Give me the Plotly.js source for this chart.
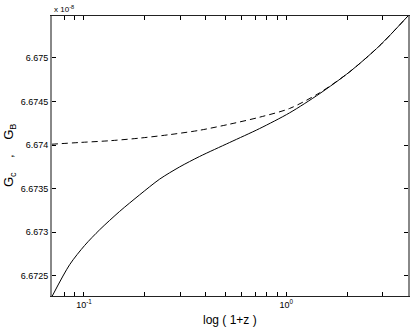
<!DOCTYPE html>
<html>
<head>
<meta charset="utf-8">
<script src="https://cdn.plot.ly/plotly-3.0.1.min.js"></script>
<style>
  body { margin: 0; background: #fff; }
  #chart { width: 412px; height: 327px; }
</style>
</head>
<body>
<div id="chart"></div>
<script>
// redshift axis, values of 1+z
var zSolid = [0.0697, 0.085, 0.1008, 0.1196, 0.1501, 0.1884, 0.2366, 0.297, 0.3729, 0.5246, 0.7381, 1.038, 1.461, 2.055, 2.891, 3.988];
// G_c (units of 1e-8)
var gSolid = [6.67227, 6.67263, 6.67285, 6.67303, 6.67324, 6.67343, 6.67361, 6.67375, 6.67387, 6.67403, 6.67419, 6.67437, 6.67459, 6.67484, 6.67514, 6.67548];

var zDash = [0.0693, 0.0952, 0.1339, 0.1884, 0.2651, 0.3729, 0.5246, 0.7381, 1.038, 1.461, 2.055, 2.891, 3.988];
// G_B (units of 1e-8)
var gDash = [6.67401, 6.67403, 6.67405, 6.67408, 6.67412, 6.67417, 6.67424, 6.67432, 6.67442, 6.67460, 6.67484, 6.67514, 6.67548];

// tick labels
var yTicks = [6.6725, 6.673, 6.6735, 6.674, 6.6745, 6.675];
var yTickText = ["6.6725", "6.673", "6.6735", "6.674", "6.6745", "6.675"];
var xTicks = [0.08, 0.09, 0.1, 0.2, 0.3, 0.4, 0.5, 0.6, 0.7, 0.8, 0.9, 1, 2, 3];
var xTickText = ["", "", "10<sup>-1</sup>", "", "", "", "", "", "", "", "", "10<sup>0</sup>", "", ""];

var solid = {
  x: zSolid,
  y: gSolid,
  type: "scatter",
  mode: "lines",
  line: { color: "#000", width: 1, shape: "spline", smoothing: 0.8 },
  hoverinfo: "skip"
};

var dashed = {
  x: zDash,
  y: gDash,
  type: "scatter",
  mode: "lines",
  line: { color: "#000", width: 1, dash: "6px,4px", shape: "spline", smoothing: 0.8 },
  hoverinfo: "skip"
};

var tickFont = { family: "Liberation Sans, Arial, sans-serif", size: 9, color: "#000" };

var layout = {
  width: 412,
  height: 327,
  margin: { l: 52, r: 4, t: 16, b: 31 },
  paper_bgcolor: "#fff",
  plot_bgcolor: "#fff",
  showlegend: false,
  xaxis: {
    type: "log",
    range: [-1.158, 0.601],
    tickvals: xTicks,
    ticktext: xTickText,
    ticks: "inside",
    ticklen: 4,
    tickcolor: "#000",
    showline: true,
    linecolor: "#222",
    linewidth: 1,
    mirror: "allticks",
    showgrid: false,
    zeroline: false,
    tickfont: tickFont
  },
  yaxis: {
    range: [6.67227, 6.67548],
    tickvals: yTicks,
    ticktext: yTickText,
    ticks: "inside",
    ticklen: 4,
    tickcolor: "#000",
    showline: true,
    linecolor: "#888",
    linewidth: 2,
    mirror: "allticks",
    showgrid: false,
    zeroline: false,
    tickfont: tickFont
  },
  annotations: [
    {
      text: "x 10<sup>-8</sup>",
      xref: "paper", yref: "paper",
      x: 0, y: 1, xanchor: "left", yanchor: "bottom",
      showarrow: false,
      font: { family: "Liberation Sans, Arial, sans-serif", size: 8, color: "#000" }
    },
    {
      text: "log ( 1+z )",
      xref: "paper", yref: "paper",
      x: 0.5, y: 0, xanchor: "center", yanchor: "top",
      yshift: -15,
      showarrow: false,
      font: { family: "Liberation Sans, Arial, sans-serif", size: 12, color: "#000" }
    },
    {
      text: "G<sub>c</sub>    ,    G<sub>B</sub>",
      xref: "paper", yref: "paper",
      x: 0, y: 0.5, xanchor: "center", yanchor: "middle",
      xshift: -43,
      textangle: -90,
      showarrow: false,
      font: { family: "Liberation Sans, Arial, sans-serif", size: 13, color: "#000" }
    }
  ]
};

Plotly.newPlot("chart", [solid, dashed], layout, { staticPlot: true });
</script>
</body>
</html>
